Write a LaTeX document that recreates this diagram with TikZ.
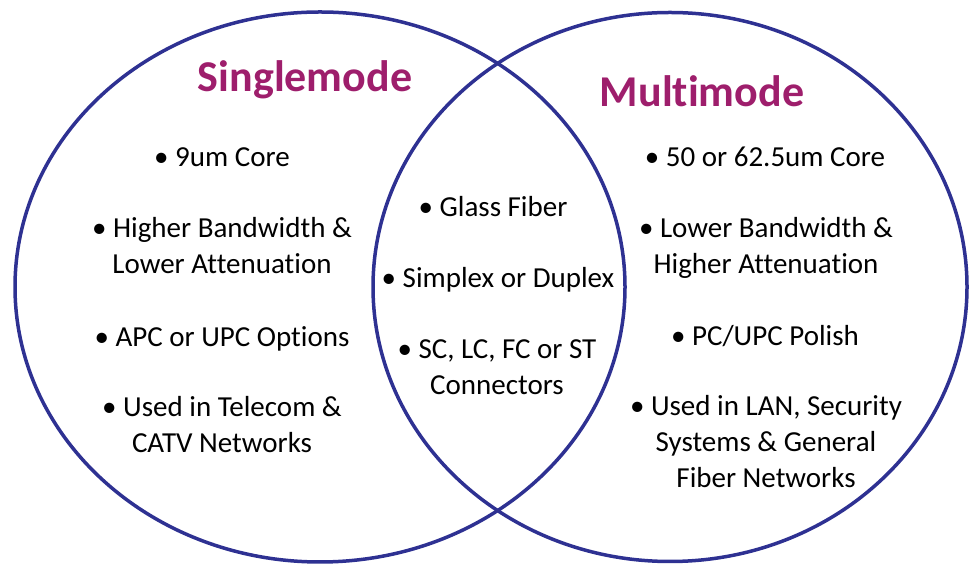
\documentclass[tikz,border=0pt]{standalone}
\usepackage{fontspec}
\setmainfont[Ligatures=NoCommon]{Carlito}
\usetikzlibrary{shapes.geometric}
\definecolor{ringblue}{RGB}{46,49,146}
\definecolor{titlepurple}{RGB}{158,30,108}
\tikzstyle{ring} = [ellipse,draw=ringblue,line width=3.5pt,inner sep=0pt]
\tikzstyle{title} = [font=\fontsize{44}{50}\selectfont\bfseries,text=titlepurple,inner sep=0pt,anchor=base]
\tikzstyle{point} = [font=\fontsize{29}{36}\selectfont,align=center,inner sep=0pt,anchor=base]

\begin{document}
\begin{tikzpicture}[x=1pt,y=1pt]
      \useasboundingbox (0,0) rectangle (974,564);
      %circles
      \node[ring, minimum width=610pt, minimum height=550pt] (single) at (320,277) {};
      \node[ring, minimum width=594pt, minimum height=549pt] (multi) at (670,277) {};
      %titles
      \node[title] (single title) at (305,472) {Singlemode};
      \node[title] (multi title) at (702,457) {Multimode};
      %points (y is the baseline of the last line)
      \foreach \nodename/\x/\y/\value in {
        sm1/222/397/{• 9um Core},
        sm2/222/290/{• Higher Bandwidth \&\\Lower Attenuation},
        sm3/222/217/{• APC or UPC Options},
        sm4/222/111/{• Used in Telecom \&\\CATV Networks},
        both1/493/347/{• Glass Fiber},
        both2/498/276/{• Simplex or Duplex},
        both3/497/169/{• SC, LC, FC or ST\\Connectors},
        mm1/765/397/{• 50 or 62.5um Core},
        mm2/766/290/{• Lower Bandwidth \&\\Higher Attenuation},
        mm3/765/218/{• PC/UPC Polish},
        mm4/766/76/{• Used in LAN, Security\\Systems \& General\\Fiber Networks}}
      {
        \node[point] (\nodename) at (\x,\y) {\value};
      };
\end{tikzpicture}
\end{document}
